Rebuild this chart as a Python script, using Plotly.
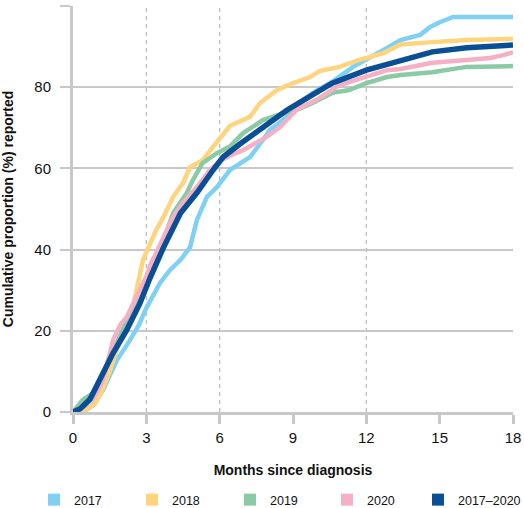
import plotly.graph_objects as go

# ---- data ----
m_2017 = [0, 0.4, 0.8, 1.23, 1.5, 1.8, 2.33, 2.7, 3.0, 3.56, 3.97, 4.4, 4.79, 5.07, 5.48, 5.89, 6.42, 6.83, 7.24, 7.77, 8.06, 8.59, 9.29, 9.82, 10.1, 10.64, 11.46, 12.0, 12.7, 13.4, 14.2, 14.6, 15.0, 15.55, 18]
v_2017 = [0, 0, 1.5, 5.4, 9, 12.8, 17.7, 21.5, 25.6, 31.8, 35, 37.5, 40.6, 47.3, 53, 55.4, 59.6, 61.3, 62.8, 67, 69.5, 71.9, 76, 78.6, 79.5, 81.5, 85, 86.7, 89.2, 91.6, 92.9, 94.8, 96, 97.3, 97.3]

m_2018 = [0, 0.5, 0.9, 1.2, 1.5, 1.92, 2.45, 2.86, 3.4, 3.7, 4.1, 4.5, 4.79, 5.3, 5.73, 6.0, 6.42, 7.24, 7.5, 7.65, 8.35, 9.0, 9.7, 10.1, 10.9, 11.7, 12.7, 13.4, 14.7, 16.1, 18]
v_2018 = [0, 0.5, 2, 5.4, 10, 17.7, 25.9, 37.4, 44.8, 48, 53, 56.4, 60.3, 62, 65.3, 67.5, 70.5, 72.7, 75.1, 76.1, 79.3, 81, 82.5, 84, 85, 86.7, 88.4, 90.5, 91.1, 91.6, 91.9]

m_2019 = [0, 0.4, 0.8, 1.2, 1.9, 2.6, 3.4, 4.1, 4.66, 4.9, 5.3, 5.9, 6.4, 6.96, 7.77, 8.6, 9.16, 9.8, 10.6, 11.3, 12.0, 12.85, 13.4, 14.7, 16.1, 18]
v_2019 = [0, 3.0, 4.5, 8.6, 18.5, 27.6, 37.4, 49, 54, 57.1, 61.3, 63.8, 65.3, 68.7, 71.9, 73.6, 74.4, 76.1, 78.6, 79.3, 81, 82.5, 83, 83.7, 85, 85.2]

m_2020 = [0, 0.5, 0.9, 1.23, 1.64, 1.92, 2.2, 2.6, 3.0, 3.15, 3.7, 4.1, 4.5, 5.07, 5.6, 6.0, 6.55, 6.96, 7.9, 8.47, 9.16, 10.0, 10.9, 12.0, 12.85, 13.4, 14.7, 16.1, 17.06, 17.6, 18]
v_2020 = [0, 1.5, 4, 7.9, 17.7, 21.4, 23.4, 28.3, 33.3, 36, 43.1, 48, 51.5, 55.4, 59.6, 61.8, 63.5, 64.5, 67.7, 70.2, 74.5, 77, 80.5, 82.5, 84.2, 84.5, 86, 86.7, 87.2, 87.9, 88.6]

m_all = [0, 0.3, 0.7, 1.23, 1.64, 2.2, 2.74, 3.15, 3.7, 4.4, 5.07, 5.73, 6.14, 6.83, 7.94, 8.76, 9.57, 10.6, 12.0, 13.4, 14.7, 16.1, 18]
v_all = [0, 0.8, 3.2, 9.6, 14.5, 20.2, 26.8, 33, 40.5, 49, 54, 59.6, 62.8, 66, 71, 74.4, 77.3, 81, 84.2, 86.5, 88.7, 89.7, 90.4]

series_names = ["2017", "2018", "2019", "2020", "2017\u20132020"]
series_months = [m_2017, m_2018, m_2019, m_2020, m_all]
series_values = [v_2017, v_2018, v_2019, v_2020, v_all]
series_colors = ["#7fd0f5", "#ffd47f", "#8ccaa6", "#f5b0c5", "#0a4f96"]
series_widths = [4.5, 4.5, 4.5, 4.5, 5.5]

x_ticks = [0, 3, 6, 9, 12, 15, 18]
y_ticks = [0, 20, 40, 60, 80, 100]
dashed_months = [3, 6, 12]

FONT = "Liberation Sans, Arial, Helvetica, sans-serif"
GRAY = "#c8c8c8"

# layout geometry (pixels)
PLOT_L, PLOT_R, PLOT_T, PLOT_B = 73, 513, 6, 412
legend_left_px = [34, 132, 230, 327, 418]
legend_center_y_px = 500

fig = go.Figure()

for name, mx, vy, col, w in zip(series_names, series_months, series_values, series_colors, series_widths):
    fig.add_trace(go.Scatter(x=mx, y=vy, mode="lines", name=name,
                             line=dict(color=col, width=w, shape="linear"),
                             showlegend=False, hoverinfo="skip"))

# legend entries as squares, each in its own legend box for exact placement
legend_layouts = {}
for i, (name, col, lx) in enumerate(zip(series_names, series_colors, legend_left_px)):
    key = "legend" if i == 0 else f"legend{i + 1}"
    fig.add_trace(go.Scatter(x=[None], y=[None], mode="markers", name=name,
                             marker=dict(symbol="square", size=12, color=col),
                             showlegend=True, legend=key))
    legend_layouts[key] = dict(
        orientation="v", xref="paper", yref="paper",
        x=(lx - PLOT_L) / (PLOT_R - PLOT_L), xanchor="left",
        y=(PLOT_B - legend_center_y_px) / (PLOT_B - PLOT_T), yanchor="middle",
        font=dict(size=12.5, color="#111111"), itemwidth=30,
        bgcolor="rgba(0,0,0,0)")

for dm in dashed_months:
    fig.add_shape(type="line", x0=dm, x1=dm, y0=0, y1=1, xref="x", yref="paper",
                  line=dict(color="#bdbdbd", width=1.3, dash="4px,4px"), layer="below")

fig.update_layout(
    width=524, height=508,
    margin=dict(l=PLOT_L, r=524 - PLOT_R, t=PLOT_T, b=508 - PLOT_B, autoexpand=False),
    paper_bgcolor="white", plot_bgcolor="white",
    font=dict(family=FONT, size=15, color="#111111"),
    showlegend=True,
    **legend_layouts,
)

fig.update_xaxes(range=[0, 18], tickvals=x_ticks, ticktext=[str(t) for t in x_ticks],
                 showgrid=False, zeroline=False, automargin=False,
                 showline=True, linecolor=GRAY, linewidth=3,
                 ticks="outside", ticklen=9, tickwidth=2.5, tickcolor=GRAY,
                 tickfont=dict(size=15), ticklabelstandoff=1,
                 title=dict(text="<b>Months since diagnosis</b>", font=dict(size=14), standoff=21))

fig.update_yaxes(range=[0, 100], tickvals=y_ticks, ticktext=[str(t) for t in y_ticks],
                 showgrid=True, gridcolor=GRAY, gridwidth=1.6, zeroline=False, automargin=False,
                 showline=True, linecolor=GRAY, linewidth=3,
                 ticks="outside", ticklen=10, tickwidth=2, tickcolor=GRAY,
                 tickfont=dict(size=15), ticklabelstandoff=6,
                 title=dict(text="<b>Cumulative proportion (%) reported</b>", font=dict(size=14), standoff=18))

fig.write_html("out.html", config={"displayModeBar": False},
               post_script="document.body.style.margin='0';")
